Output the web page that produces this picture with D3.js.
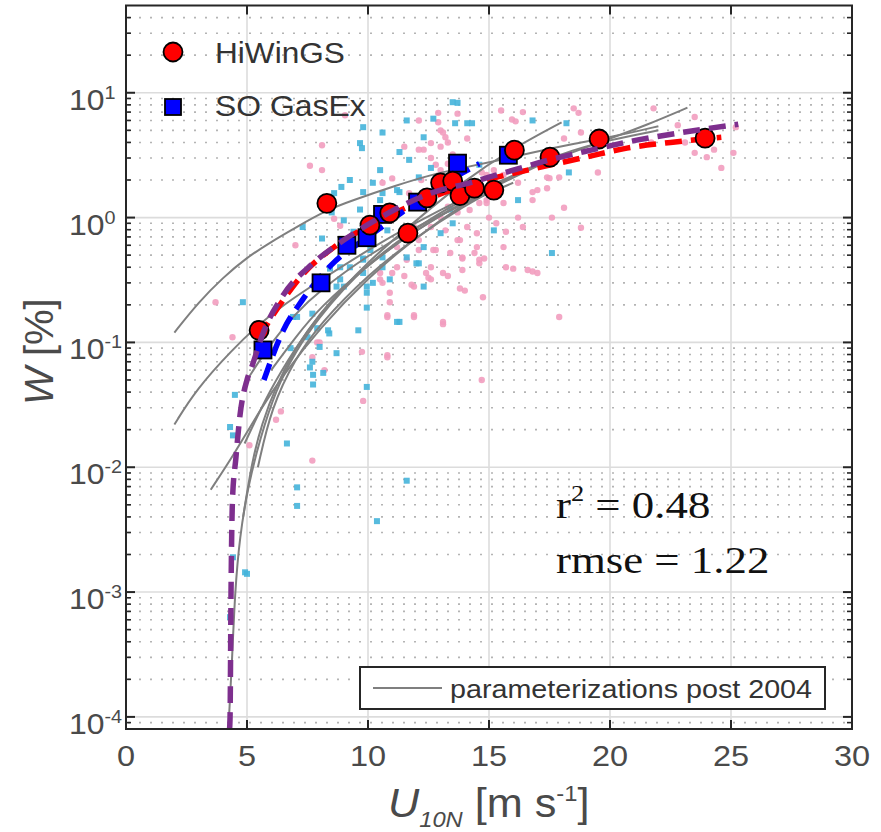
<!DOCTYPE html>
<html><head><meta charset="utf-8">
<script src="https://cdn.jsdelivr.net/npm/d3@7"></script>
<style>body{margin:0;background:#fff}svg{display:block}</style></head>
<body>
<script>
// ---------- data ----------
const xTicks = [0, 5, 10, 15, 20, 25, 30];
const yExponents = [1, 0, -1, -2, -3, -4];

// HiWinGS bin averages (red circles)
const hiwingsU = [5.5, 8.3, 10.08, 10.9, 11.65, 12.44, 13.0, 13.5, 13.8, 14.4, 15.2, 16.05, 17.52, 19.55, 23.93];
const hiwingsW = [0.125, 1.3, 0.87, 1.09, 0.75, 1.44, 1.9, 1.96, 1.5, 1.72, 1.66, 3.47, 3.05, 4.26, 4.33];
// SO GasEx bin averages (blue squares)
const soU = [5.66, 8.06, 9.13, 9.96, 10.6, 12.05, 13.7, 15.8];
const soW = [0.087, 0.30, 0.60, 0.69, 1.06, 1.33, 2.73, 3.16];

// individual HiWinGS samples (pink)
const hiwingsPts = [
 [3.7,0.21],[4.4,0.11],[5.1,0.015],[6.2,0.024],[6.4,0.028],[7.7,0.0113],[7.0,0.6],[8.0,0.10],[8.2,0.06],
 [8.1,3.8],[7.6,2.6],[8.1,2.4],[9.05,6.6],[8.6,0.98],[8.85,0.86],[9.25,0.58],[10.5,0.32],[10.6,0.30],
 [10.8,0.16],[10.9,0.21],[10.8,0.079],[11.0,0.36],[11.2,0.58],[11.5,0.34],[11.5,3.7],[11.6,0.46],
 [11.7,1.57],[11.8,0.29],[11.9,0.16],[12.1,0.55],[12.1,6.0],[12.3,3.5],[12.4,0.36],[12.5,0.33],[12.6,0.32],
 [12.6,3.95],[12.7,0.55],[12.8,2.65],[12.9,5.8],[12.9,6.9],[13.0,2.4],[13.0,3.7],[13.0,5.0],[13.1,0.146],
 [13.1,0.36],[13.1,4.8],[13.2,0.79],[13.2,4.4],[13.3,1.22],[13.3,4.0],[13.4,0.52],[13.5,3.2],[13.7,6.8],
 [13.8,0.66],[13.8,0.27],[13.9,0.47],[13.9,0.38],[14.0,0.26],[14.1,0.84],[14.1,4.3],[14.5,0.58],[14.4,0.52],
 [14.6,0.46],[14.6,1.31],[14.7,0.05],[14.8,0.47],[14.75,0.23],[14.9,1.31],[14.9,2.2],[15.0,1.0],[15.5,7.2],
 [15.6,0.58],[15.6,1.31],[15.7,0.40],[15.7,0.77],[16.0,0.39],[15.95,6.1],[16.1,5.9],[16.4,7.0],[16.4,0.84],
 [16.6,0.38],[16.8,0.37],[16.8,1.6],[16.8,1.38],[17.0,0.36],[17.0,1.66],[17.4,1.72],[17.4,2.1],[17.5,2.07],
 [17.6,1.0],[17.9,0.16],[17.9,2.1],[18.1,1.2],[18.1,4.3],[18.5,7.5],[18.7,6.9],[18.8,4.8],[18.8,0.83],
 [19.5,2.3],[21.7,4.0],[21.8,7.5],[22.8,5.5],[23.1,4.0],[23.5,6.4],[23.5,3.3],[24.0,3.05],[24.3,3.5],
 [24.6,2.5],[25.1,3.3],[25.2,5.3],[9.75,0.084],[10.8,0.076],[9.8,0.034],[10.8,0.165],[11.9,0.165],
 [13.1,0.14],[7.9,0.10],[7.7,0.076],[10.6,1.9],[11.0,2.06],[12.2,2.0],[9.9,0.9],[14.2,1.6],[15.2,2.4],
 [12.1,3.5],[12.6,3.0],[13.3,2.7],[14.7,2.3],[15.6,2.2],[16.2,1.9],[14.9,1.38],[14.2,1.15],[13.7,1.1],
 [13.0,1.0],[12.6,0.84],[11.9,0.84],[12.1,0.66],[12.8,0.55],[13.7,0.66],[14.5,0.75],[15.3,0.9],[16.2,1.0],
 [13.9,0.48],[14.6,0.43],[13.3,0.34],[12.6,0.40],[11.2,0.40],[10.5,0.36],[11.9,0.28],[10.9,0.25]
];
// individual SO GasEx samples (cyan)
const soPts = [
 [4.83,0.21],[4.5,0.038],[4.3,0.021],[4.42,0.018],[6.65,0.0155],[7.07,0.0069],[7.07,0.0049],[10.37,0.0037],
 [11.6,0.0078],[4.92,0.00144],[4.42,0.0019],[5.0,0.0014],[4.3,0.00063],[7.73,0.055],[7.73,0.046],
 [11.3,0.146],[15.2,0.79],[12.1,0.43],[13.5,0.9],[16.8,6.0],[18.2,5.7],[18.3,2.3],[13.6,5.7],[14.1,5.7],
 [14.3,5.7],[13.7,8.3],[10.6,4.8],[11.3,3.35],[9.75,3.6],[12.6,2.5],[14.6,2.65],[10.2,1.9],[9.8,1.6],
 [11.3,1.6],[8.9,1.76],[8.6,1.57],[9.4,0.77],[10.1,0.55],[10.6,0.48],[12.0,0.43],[10.2,0.30],[8.85,0.32],
 [9.8,0.36],[16.2,1.38],[12.3,4.4],[11.6,6.0],[9.8,5.3],[8.5,1.1],[7.3,0.84],[8.1,0.68],[8.43,0.39],
 [7.07,0.16],[7.7,0.17],[8.7,0.28],[8.4,0.118],[7.7,0.07],[9.67,3.95],[10.6,1.57],[12.7,6.2],[10.8,0.79],
 [8.85,0.40],[12.3,0.28],[9.8,0.47],[10.6,0.40],[17.6,0.52],[13.5,8.4],[9.95,0.044],[9.6,0.125],
 [9.95,0.19],[11.2,0.146],[9.95,0.25],[8.35,0.125],[8.0,0.092],[6.9,0.16],[6.8,0.09],
 [10.5,1.38],[11.2,1.66],[9.67,1.16],[9.0,0.95],[9.8,0.46],[9.25,0.40],[9.0,0.28],[9.95,0.28],[10.9,0.32],
 [11.6,0.48],[12.3,0.58],[13.0,0.75],[13.4,1.16],[12.1,2.1],[11.7,2.9],[10.5,2.4],[9.25,2.0],
 [7.9,0.13],[7.5,0.11],[8.7,0.082],[8.15,0.057],[7.6,0.063]
];

// fitted curves (dashed)
const redFitU = [5.5, 6.2, 7.3, 8.6, 10, 12, 14, 15.3, 17, 19, 20.7, 22.5, 24.6];
const redFitW = [0.11, 0.18, 0.35, 0.58, 0.85, 1.3, 1.8, 2.1, 2.5, 3.05, 3.6, 4.0, 4.4];
const blueFitU = [5.7, 6.5, 7.3, 8.5, 10, 11.4, 13, 14.6];
const blueFitW = [0.05, 0.125, 0.22, 0.42, 0.7, 1.1, 1.8, 2.7];
const purpleFitU = [4.28, 4.3, 4.34, 4.4, 4.54, 4.71, 5.0, 5.2, 5.66, 6.5, 7.73, 9.0, 10.5, 12.6, 14.2, 16.0, 17.5, 19.3, 21.1, 22.8, 25.3];
const purpleFitW = [8e-5, 1e-4, 1e-3, 5.5e-3, 0.0118, 0.026, 0.05, 0.064, 0.118, 0.24, 0.43, 0.66, 1.0, 1.57, 1.9, 2.4, 2.9, 3.5, 4.17, 4.75, 5.6];

// published parameterizations (gray)
const param1 = [[2.0,0.12],[3.0,0.21],[4.0,0.33],[5.0,0.48],[6.0,0.64],[7.0,0.83],[8.3,1.15],[9.3,1.36],[11.2,1.82],[12.6,2.2],[13.9,2.5],[15.3,2.85],[16.7,3.3],[18.5,3.9],[20.5,4.6],[22.0,5.4]];
const param2 = [[2.0,0.022],[2.9,0.042],[4.4,0.088],[5.5,0.14],[6.5,0.2],[8.3,0.34],[10,0.55],[12,0.92],[14,1.45],[16,2.2],[18,3.1],[20,4.3],[21.5,5.5],[23.2,7.6]];
const param3 = [[3.5,0.0066],[4.5,0.013],[5.5,0.028],[6.5,0.055],[8,0.13],[10,0.33],[12,0.7],[14,1.3],[16,2.2],[18,3.3],[20,4.2],[22,5.0]];
const param4 = [[4.23,8e-5],[4.38,2.7e-4],[4.5,1e-3],[4.7,2.8e-3],[5.04,7e-3],[5.54,0.017],[6.2,0.042],[7,0.085],[8,0.16],[9,0.27],[10,0.42],[11,0.6],[12,0.82],[13,1.1],[14,1.4],[15,1.75],[16,2.1]];
const param5 = [[4.84,0.004],[5.2,0.011],[5.6,0.022],[6.2,0.045],[7,0.09],[8,0.17],[9,0.28],[10,0.42],[12,0.8],[14,1.35],[16,2.1],[18,3.2]];
const param6 = [[4.9,0.0155],[5.95,0.042],[7,0.09],[8,0.17],[10,0.45],[12,0.95],[14,2.0],[16,3.6],[18,5.8]];
const param7 = [[5.45,0.01],[6,0.03],[7,0.075],[8,0.14],[10,0.35],[12,0.7],[14,1.25],[15.5,1.8]];
const param8 = [[5.0,0.05],[6,0.1],[7,0.17],[8,0.26],[10,0.5],[12,0.85],[14,1.3],[16,1.9]];
const param9 = [[6,0.06],[7,0.11],[8,0.19],[10,0.42],[12,0.8],[14,1.35],[15,1.7]];
const paramCurves = [param1, param2, param3, param4, param5, param6, param7, param8, param9];

// ---------- layout ----------
const W = 881, H = 832;
const L = 126, R = 852, T = 5.5, B = 729;
const x = d3.scaleLinear().domain([0, 30]).range([L, R]);
const y = d3.scaleLog().domain([8e-5, 50]).range([B, T]);

const svg = d3.select("body").append("svg").attr("width", W).attr("height", H)
  .attr("font-family", "'Liberation Sans', Arial, sans-serif");

svg.append("defs").append("clipPath").attr("id", "clip")
  .append("rect").attr("x", L).attr("y", T).attr("width", R - L).attr("height", B - T);

svg.append("rect").attr("x", L).attr("y", T).attr("width", R - L).attr("height", B - T).attr("fill", "#fff");

// grid
const grid = svg.append("g");
const minorVals = [];
for (let d = -5; d <= 1; d++) for (let k = 2; k <= 9; k++) {
  const v = k * Math.pow(10, d);
  if (v > 8e-5 && v < 50) minorVals.push(v);
}
grid.selectAll(".mg").data(minorVals).enter().append("line")
  .attr("x1", L + 2).attr("x2", R).attr("y1", d => y(d)).attr("y2", d => y(d))
  .attr("stroke", "#b4b4b4").attr("stroke-width", 1.6).attr("stroke-dasharray", "2,9");
grid.selectAll(".Mg").data(yExponents).enter().append("line")
  .attr("x1", L).attr("x2", R).attr("y1", d => y(Math.pow(10, d))).attr("y2", d => y(Math.pow(10, d)))
  .attr("stroke", "#dcdcdc").attr("stroke-width", 1.6);
grid.selectAll(".vg").data(xTicks.slice(1, -1)).enter().append("line")
  .attr("x1", d => x(d)).attr("x2", d => x(d)).attr("y1", T).attr("y2", B)
  .attr("stroke", "#dcdcdc").attr("stroke-width", 1.6);

const plot = svg.append("g").attr("clip-path", "url(#clip)");

// scatter
plot.selectAll(".pk").data(hiwingsPts).enter().append("circle")
  .attr("cx", d => x(d[0])).attr("cy", d => y(d[1])).attr("r", 3.2)
  .attr("fill", "#f29dbf").attr("opacity", 0.9);
plot.selectAll(".cy").data(soPts).enter().append("rect")
  .attr("x", d => x(d[0]) - 3).attr("y", d => y(d[1]) - 3).attr("width", 6).attr("height", 6)
  .attr("fill", "#45b4da").attr("opacity", 0.9);

// gray parameterizations
const line = d3.line().x(d => x(d[0])).y(d => y(d[1])).curve(d3.curveMonotoneX);
const smooth = d3.line().x(d => x(d[0])).y(d => y(d[1])).curve(d3.curveBasis);
plot.selectAll(".gp").data(paramCurves).enter().append("path")
  .attr("d", smooth).attr("fill", "none").attr("stroke", "#7f7f7f").attr("stroke-width", 2);

function zipUW(u, w) { return u.map((v, i) => [v, w[i]]); }
function dashed(u, w, color) {
  plot.append("path").attr("d", line(zipUW(u, w))).attr("fill", "none")
    .attr("stroke", color).attr("stroke-width", 5.5).attr("stroke-dasharray", "17,9");
}
dashed(redFitU, redFitW, "#ff0000");
dashed(blueFitU, blueFitW, "#0000ff");

// bin markers
plot.selectAll(".sq").data(zipUW(soU, soW)).enter().append("rect")
  .attr("x", d => x(d[0]) - 8.5).attr("y", d => y(d[1]) - 8.5).attr("width", 17).attr("height", 17)
  .attr("fill", "#0000ff").attr("stroke", "#000").attr("stroke-width", 1.8);
plot.selectAll(".ci").data(zipUW(hiwingsU, hiwingsW)).enter().append("circle")
  .attr("cx", d => x(d[0])).attr("cy", d => y(d[1])).attr("r", 9.5)
  .attr("fill", "#ff0000").attr("stroke", "#000").attr("stroke-width", 1.8);

dashed(purpleFitU, purpleFitW, "#7e2f8e");

// axes box & ticks
const ax = svg.append("g").attr("stroke", "#262626");
ax.append("rect").attr("x", L).attr("y", T).attr("width", R - L).attr("height", B - T)
  .attr("fill", "none").attr("stroke-width", 2);
xTicks.forEach(t => {
  ax.append("line").attr("x1", x(t)).attr("x2", x(t)).attr("y1", B).attr("y2", B - 9).attr("stroke-width", 2);
  ax.append("line").attr("x1", x(t)).attr("x2", x(t)).attr("y1", T).attr("y2", T + 9).attr("stroke-width", 2);
});
yExponents.forEach(e => {
  const yy = y(Math.pow(10, e));
  ax.append("line").attr("x1", L).attr("x2", L + 9).attr("y1", yy).attr("y2", yy).attr("stroke-width", 2);
  ax.append("line").attr("x1", R).attr("x2", R - 9).attr("y1", yy).attr("y2", yy).attr("stroke-width", 2);
});
minorVals.forEach(v => {
  const yy = y(v);
  ax.append("line").attr("x1", L).attr("x2", L + 5).attr("y1", yy).attr("y2", yy).attr("stroke-width", 1.6);
  ax.append("line").attr("x1", R).attr("x2", R - 5).attr("y1", yy).attr("y2", yy).attr("stroke-width", 1.6);
});

// tick labels
const tickCol = "#4a4a4a";
svg.selectAll(".xt").data(xTicks).enter().append("text")
  .attr("transform", d => `translate(${x(d)},766) scale(1.12,1)`)
  .attr("text-anchor", "middle").attr("font-size", 29).attr("fill", tickCol).text(d => d);
yExponents.forEach(e => {
  const t = svg.append("text").attr("transform", `translate(69,${y(Math.pow(10, e)) + 17}) scale(1.1,1)`)
    .attr("font-size", 29).attr("fill", tickCol);
  t.append("tspan").text("10");
  t.append("tspan").attr("font-size", 18).attr("dy", -11).text(e < 0 ? "-" + (-e) : String(e));
});

// axis labels
const xl = svg.append("text").attr("transform", "translate(388,817) scale(1.08,1)")
  .attr("font-size", 40).attr("fill", tickCol);
xl.append("tspan").attr("font-style", "italic").text("U");
xl.append("tspan").attr("font-style", "italic").attr("font-size", 22).attr("dy", 10).text("10N");
xl.append("tspan").attr("dy", -10).text(" [m s");
xl.append("tspan").attr("font-size", 22).attr("dy", -16).text("-1");
xl.append("tspan").attr("dy", 16).text("]");

const yl = svg.append("text").attr("transform", "translate(53,405) rotate(-90)")
  .attr("font-size", 40).attr("fill", tickCol);
yl.append("tspan").attr("font-style", "italic").text("W");
yl.append("tspan").text(" [%]");

// top-left legend
svg.append("circle").attr("cx", 173).attr("cy", 52).attr("r", 9.5)
  .attr("fill", "#ff0000").attr("stroke", "#000").attr("stroke-width", 1.8);
svg.append("rect").attr("x", 165).attr("y", 99).attr("width", 16).attr("height", 16)
  .attr("fill", "#0000ff").attr("stroke", "#000").attr("stroke-width", 1.8);
svg.append("text").attr("transform", "translate(215,63) scale(1.09,1)").attr("font-size", 29)
  .attr("fill", "#333").text("HiWinGS");
svg.append("text").attr("transform", "translate(215,116) scale(1.1,1)").attr("font-size", 29)
  .attr("fill", "#333").text("SO GasEx");

// bottom legend
svg.append("rect").attr("x", 360).attr("y", 667).attr("width", 465).attr("height", 42)
  .attr("fill", "#fff").attr("stroke", "#262626").attr("stroke-width", 2);
svg.append("line").attr("x1", 373).attr("x2", 442).attr("y1", 688).attr("y2", 688)
  .attr("stroke", "#7f7f7f").attr("stroke-width", 2);
svg.append("text").attr("x", 450).attr("y", 698).attr("font-size", 25)
  .attr("textLength", 362).attr("lengthAdjust", "spacingAndGlyphs")
  .attr("fill", "#333").text("parameterizations post 2004");

// statistics
const st = svg.append("g").attr("font-family", "'Liberation Serif', 'Times New Roman', serif")
  .attr("font-size", 39).attr("fill", "#111");
const r2 = st.append("text").attr("transform", "translate(556,518) scale(1.15,1)");
r2.append("tspan").text("r");
r2.append("tspan").attr("font-size", 23).attr("dy", -17).text("2");
r2.append("tspan").attr("dy", 17).text(" = 0.48");
st.append("text").attr("transform", "translate(556,573) scale(1.15,1)").text("rmse = 1.22");
</script>
</body></html>
